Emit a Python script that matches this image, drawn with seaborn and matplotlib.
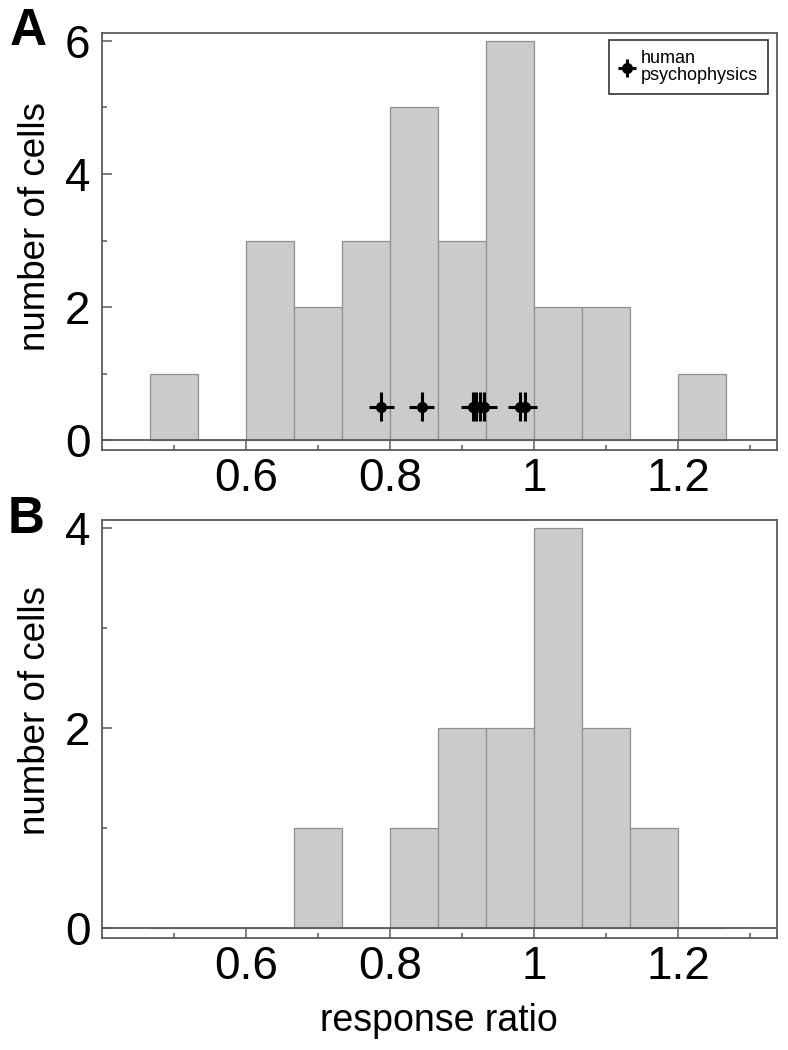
import numpy as np
import pandas as pd
import seaborn as sns
import matplotlib.pyplot as plt
from matplotlib.ticker import MultipleLocator, FixedLocator

sns.set_style("white")
plt.rcParams['font.family'] = ['Liberation Sans', 'DejaVu Sans']
plt.rcParams['text.color'] = 'black'
plt.rcParams['axes.labelcolor'] = 'black'

# bin centres (width 1/15) and counts
bin_centers = [0.5, 0.5667, 0.6333, 0.7, 0.7667, 0.8333, 0.9, 0.9667, 1.0333, 1.1, 1.1667, 1.2333]
counts_a = [1, 0, 3, 2, 3, 5, 3, 6, 2, 2, 0, 1]
counts_b = [0, 0, 0, 1, 0, 1, 2, 2, 4, 2, 1, 0]

# human psychophysics ratios
psy_x = [0.788, 0.844, 0.915, 0.920, 0.925, 0.931, 0.981, 0.987]
psy_y = [0.5] * len(psy_x)
psy_xerr = 0.017
psy_yerr = 0.22

grey = "#5a5a5a"

fig = plt.figure(figsize=(7.88, 10.5), dpi=100)
ax_a = fig.add_axes([0.129, 0.5714, 0.857, 0.3972])
ax_b = fig.add_axes([0.129, 0.1067, 0.857, 0.3981])

df_a = pd.DataFrame({"ratio": bin_centers, "n": counts_a})
df_b = pd.DataFrame({"ratio": bin_centers, "n": counts_b})

for ax, df in [(ax_a, df_a), (ax_b, df_b)]:
    sns.histplot(data=df, x="ratio", weights="n", binwidth=1/15,
                 binrange=(0.4 + 1/15, 1.2 + 1/15), ax=ax,
                 color="#cbcbcb", edgecolor="#909090", linewidth=0.9, alpha=1)
    ax.axhline(0, color=grey, lw=1.3, zorder=3)
    ax.set_xlim(0.4, 1.337)
    ax.xaxis.set_major_locator(FixedLocator([0.6, 0.8, 1.0, 1.2]))
    ax.xaxis.set_minor_locator(FixedLocator([0.5, 0.7, 0.9, 1.1, 1.3]))
    ax.set_xticklabels(["0.6", "0.8", "1", "1.2"])
    ax.yaxis.set_major_locator(MultipleLocator(2))
    ax.yaxis.set_minor_locator(MultipleLocator(1))
    ax.tick_params(axis="both", which="both", direction="in", colors=grey,
                   labelcolor="black", labelsize=33, bottom=True, left=True,
                   top=False, right=False)
    ax.tick_params(axis="both", which="major", length=7.2, width=1.1)
    ax.tick_params(axis="both", which="minor", length=3.6, width=1.1)
    ax.tick_params(axis="x", pad=5)
    ax.tick_params(axis="y", pad=8)
    for s in ax.spines.values():
        s.set_color(grey)
        s.set_linewidth(1.3)
    ax.set_ylabel("number of cells", fontsize=26.5)
    ax.set_xlabel("")

ax_a.set_ylim(-0.15, 6.12)
ax_b.set_ylim(-0.1, 4.08)
ax_a.yaxis.set_label_coords(-0.072, 0.535)
ax_b.yaxis.set_label_coords(-0.072, 0.545)
ax_b.set_xlabel("response ratio", fontsize=27, labelpad=10)

ax_a.errorbar(psy_x, psy_y, xerr=psy_xerr, yerr=psy_yerr, fmt="o", color="black",
              markersize=7, elinewidth=2.2, capsize=0, zorder=5,
              label="human\npsychophysics")
leg = ax_a.legend(loc="upper right", fontsize=13, frameon=True, fancybox=False,
                  handlelength=0.9, handletextpad=0.35, borderpad=0.55,
                  borderaxespad=0, labelspacing=0.1, bbox_to_anchor=(0.987, 0.982))
leg.get_frame().set_edgecolor("black")
leg.get_frame().set_linewidth(1.2)
for t in leg.get_texts():
    t.set_linespacing(1.0)

fig.text(0.012, 0.957, "A", fontsize=37, fontweight="bold")
fig.text(0.010, 0.492, "B", fontsize=37, fontweight="bold")

fig.savefig("out.png", dpi=100)
